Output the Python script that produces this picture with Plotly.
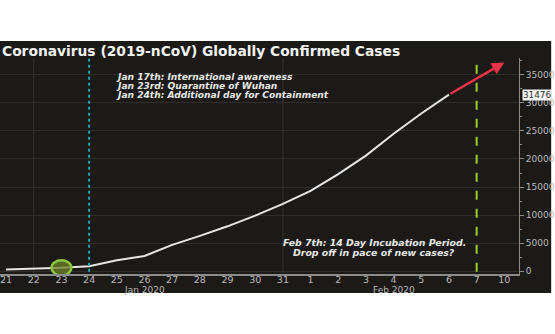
import plotly.graph_objects as go

# Daily totals of globally confirmed 2019-nCoV cases
day_labels = ['21', '22', '23', '24', '25', '26', '27', '28', '29', '30', '31',
              '1', '2', '3', '4', '5', '6', '7', '10']
cases = [300, 420, 600, 900, 1950, 2700, 4700, 6300, 8000, 9900, 12000,
         14300, 17300, 20600, 24500, 28100, 31476]
latest_value = 31476
projected_value = 37200
projected_day = '10'
yticks = [0, 5000, 10000, 15000, 20000, 25000, 30000, 35000]

wuhan_day = '23'
containment_day = '24'
incubation_day = '7'
grid_days = ['22', '31']

event_notes = ['Jan 17th: International awareness',
               'Jan 23rd: Quarantine of Wuhan',
               'Jan 24th: Additional day for Containment']
incubation_notes = ['Feb 7th: 14 Day Incubation Period.',
                    'Drop off in pace of new cases?']

pos = {d: i for i, d in enumerate(day_labels)}
xs = list(range(len(cases)))

BG = '#1b1a16'
TXT = '#e8e8e8'
fig = go.Figure()

fig.add_trace(go.Scatter(x=xs, y=cases, mode='lines',
                         line=dict(color='#e6e6e6', width=2),
                         hoverinfo='skip', showlegend=False))

shapes = [
    # dark panel behind the chart
    dict(type='rect', xref='paper', yref='paper', x0=0, x1=1.062, y0=-0.088, y1=1.079,
         fillcolor=BG, line=dict(width=0), layer='below'),
]
for d in grid_days:
    shapes.append(dict(type='line', xref='x', yref='paper', x0=pos[d], x1=pos[d], y0=0, y1=1,
                       line=dict(color='#35332d', width=1), layer='below'))
shapes.append(dict(type='line', xref='x', yref='paper', x0=pos[containment_day], x1=pos[containment_day],
                   y0=0.01, y1=1, line=dict(color='#22a4ad', width=2, dash='dot')))
shapes.append(dict(type='line', xref='x', yref='paper', x0=pos[incubation_day], x1=pos[incubation_day],
                   y0=0.01, y1=1, line=dict(color='#9ccc2e', width=2, dash='dash')))
# highlight ring around the Wuhan quarantine day
wx = pos[wuhan_day]
wy = cases[wx]
shapes.append(dict(type='circle', xref='x', yref='y', x0=wx - 0.36, x1=wx + 0.36,
                   y0=wy - 1350, y1=wy + 1350,
                   fillcolor='rgba(110,130,40,0.75)', line=dict(color='#8cc63f', width=2.5)))

annotations = [
    dict(xref='paper', yref='paper', x=0.0, y=1.08, xanchor='left', yanchor='top',
         text='<b>Coronavirus (2019-nCoV) Globally Confirmed Cases</b>', showarrow=False,
         font=dict(family='DejaVu Sans', size=13.8, color='#f2f2f2')),
    dict(xref='x', yref='paper', x=pos['26'], y=(274 - 289.5) / 216, yanchor='middle', text='Jan 2020',
         showarrow=False, font=dict(family='DejaVu Sans', size=9, color='#b8b8b8')),
    dict(xref='x', yref='paper', x=pos['4'], y=(274 - 289.5) / 216, yanchor='middle', text='Feb 2020',
         showarrow=False, font=dict(family='DejaVu Sans', size=9, color='#b8b8b8')),
    # projected trend arrow
    dict(xref='x', yref='y', axref='x', ayref='y', x=pos[projected_day], y=projected_value,
         ax=len(cases) - 1, ay=latest_value, text='', showarrow=True,
         arrowhead=2, arrowsize=1, arrowwidth=2.5, arrowcolor='#e8334a'),
    # last value tag on the axis
    dict(xref='paper', yref='y', x=1.005, y=latest_value, xanchor='left', yanchor='middle',
         text=f'{latest_value}', showarrow=False, bgcolor='#f4f4f4', borderpad=0,
         font=dict(family='DejaVu Sans', size=8.8, color='#333333')),
]
# event notes, one line each for tight spacing
for i, note in enumerate(event_notes):
    annotations.append(dict(xref='paper', yref='paper', x=0.219, y=(274 - 76.5 - i * 9.4) / 216,
                            xanchor='left', yanchor='middle', text=f'<b><i>{note}</i></b>',
                            showarrow=False, font=dict(family='DejaVu Sans', size=9.1, color=TXT)))
for i, note in enumerate(incubation_notes):
    annotations.append(dict(xref='paper', yref='paper', x=375.5 / 521, y=(274 - 242.5 - i * 9.6) / 216,
                            xanchor='center', yanchor='middle', text=f'<b><i>{note}</i></b>',
                            showarrow=False, font=dict(family='DejaVu Sans', size=9.4, color=TXT)))

fig.update_layout(
    width=555, height=334,
    margin=dict(l=0, r=34, t=58, b=60),
    paper_bgcolor='white', plot_bgcolor='rgba(0,0,0,0)',
    shapes=shapes, annotations=annotations, showlegend=False,
    xaxis=dict(range=[-0.22, 18.53], tickmode='array', tickvals=list(range(len(day_labels))),
               ticktext=day_labels, showgrid=False, zeroline=False,
               showline=True, linecolor='#8a8a8a', linewidth=2,
               ticks='', ticklabelstandoff=-4,
               tickfont=dict(family='DejaVu Sans', size=9.5, color='#b8b8b8')),
    yaxis=dict(side='right', range=[-500, 38000], tickmode='array', tickvals=yticks,
               ticktext=[str(v) for v in yticks],
               showgrid=True, gridcolor='#2f2d28', gridwidth=1, zeroline=False,
               showline=True, linecolor='#8a8a8a', linewidth=1,
               ticks='outside', ticklen=4, tickcolor='#8a8a8a',
               minor=dict(dtick=2500, ticks='outside', ticklen=2, tickcolor='#8a8a8a', showgrid=False),
               tickfont=dict(family='DejaVu Sans', size=9, color='#b8b8b8')),
)

fig.write_html('out.html')
